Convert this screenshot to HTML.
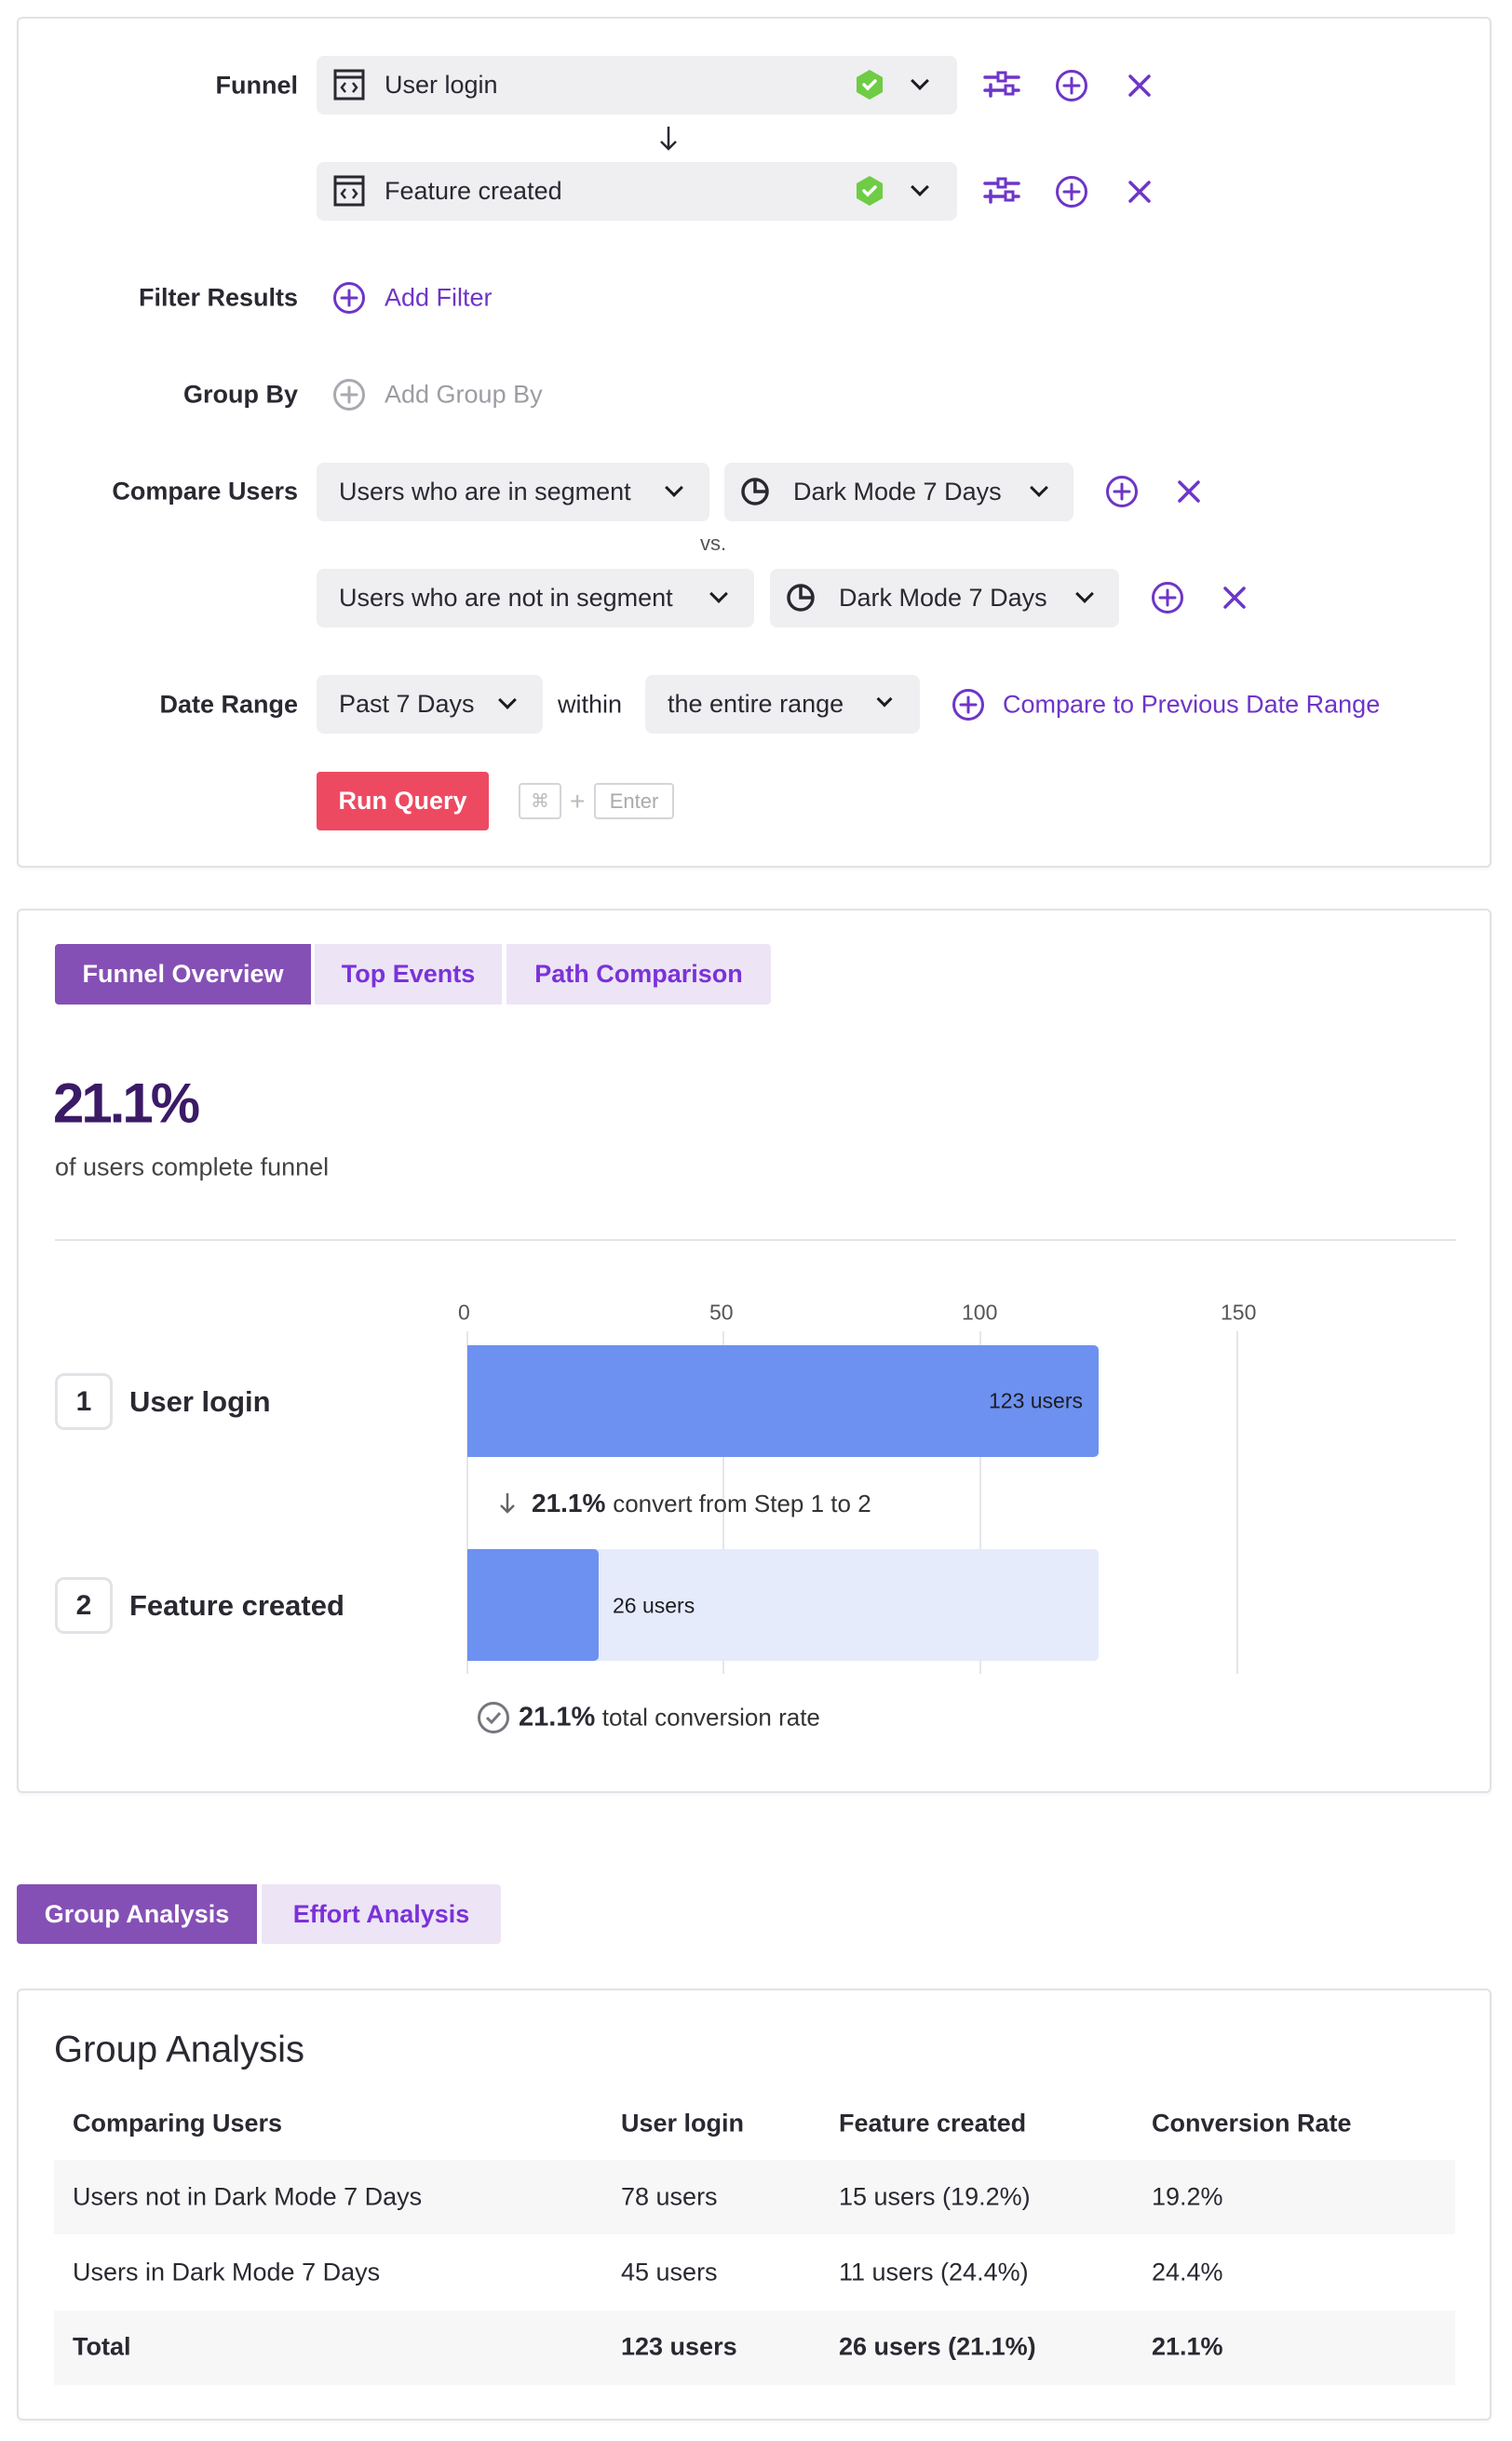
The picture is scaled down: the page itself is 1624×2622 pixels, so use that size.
<!DOCTYPE html>
<html><head><meta charset="utf-8">
<style>
*{box-sizing:border-box;margin:0;padding:0}
body{width:1624px;height:2622px;background:#fff;font-family:"Liberation Sans",sans-serif;color:#2a2830;position:relative;overflow:hidden}
.a{position:absolute}
.card{position:absolute;border:2px solid #e2e1e6;border-radius:6px;background:#fff;box-shadow:0 2px 3px rgba(0,0,0,0.04)}
.lbl{position:absolute;right:1304px;font-size:27px;font-weight:bold;color:#2a2830;transform:translateY(-50%);white-space:nowrap}
.box{position:absolute;background:#efeef1;border-radius:8px;display:flex;align-items:center;font-size:27px;color:#2a2830;white-space:nowrap}
.t{position:absolute;transform:translateY(-50%);white-space:nowrap;font-size:27px}
.chev{position:absolute;width:14px;height:14px;border-right:3px solid #1c1b20;border-bottom:3px solid #1c1b20;transform:rotate(45deg)}
.purple{color:#6e35c8}
.tab{position:absolute;display:flex;align-items:center;justify-content:center;font-size:27px;font-weight:bold;background:#ede4f6;color:#7a32d8}
.tab.on{background:#8550b5;color:#fff}
</style></head><body>

<svg width="0" height="0" style="position:absolute">
<defs>
<g id="plus"><circle cx="18" cy="18" r="15.5" fill="none" stroke="#6e35c8" stroke-width="3"/><path d="M18 10v16M10 18h16" stroke="#6e35c8" stroke-width="3" stroke-linecap="round"/></g>
<g id="x"><path d="M5 5L25 25M25 5L5 25" stroke="#6e35c8" stroke-width="3.5" stroke-linecap="round"/></g>
<g id="sl"><path d="M2 9h36M2 23h36" stroke="#6e35c8" stroke-width="3.5" stroke-linecap="round"/><path d="M8 17v12" stroke="#6e35c8" stroke-width="3.5" stroke-linecap="round"/><rect x="16" y="4" width="8" height="9" fill="#fff" stroke="#6e35c8" stroke-width="3"/><rect x="24" y="18" width="8" height="9" fill="#fff" stroke="#6e35c8" stroke-width="3"/></g>
<g id="shield"><path d="M16 1L30 9v16L16 33L2 25V9z" fill="#6fcc45"/><path d="M10 17l4 4l8-8" stroke="#fff" stroke-width="3.5" fill="none" stroke-linecap="round"/></g>
<g id="code"><rect x="2" y="2" width="30" height="30" fill="none" stroke="#2a2830" stroke-width="3"/><path d="M2 9h30" stroke="#2a2830" stroke-width="3"/><path d="M13 15l-4 5l4 5M21 15l4 5l-4 5" stroke="#2a2830" stroke-width="2.5" fill="none"/></g>
<g id="pie"><circle cx="17" cy="18" r="13" fill="none" stroke="#2a2830" stroke-width="3.5"/><path d="M17 5v13h13" fill="none" stroke="#2a2830" stroke-width="3.5"/></g>
</defs></svg>

<!-- CARD 1 -->
<div class="card" style="left:18px;top:18px;width:1584px;height:914px"></div>

<div class="lbl" style="top:92px">Funnel</div>
<div class="box" style="left:340px;top:60px;width:688px;height:63px">
 <svg class="a" style="left:18px;top:14px" width="36" height="36"><use href="#code"/></svg>
 <span style="position:absolute;left:73px">User login</span>
 <svg class="a" style="left:578px;top:14px" width="34" height="36"><use href="#shield"/></svg>
 <div class="chev" style="left:641px;top:20px"></div>
</div>
<svg class="a" style="left:1056px;top:74px" width="42" height="34"><use href="#sl"/></svg>
<svg class="a" style="left:1133px;top:74px" width="36" height="36"><use href="#plus"/></svg>
<svg class="a" style="left:1209px;top:77px" width="30" height="30"><use href="#x"/></svg>

<svg class="a" style="left:706px;top:134px" width="24" height="30"><path d="M12 2v24M4 18l8 8l8-8" stroke="#2a2830" stroke-width="2.5" fill="none"/></svg>

<div class="box" style="left:340px;top:174px;width:688px;height:63px">
 <svg class="a" style="left:18px;top:14px" width="36" height="36"><use href="#code"/></svg>
 <span style="position:absolute;left:73px">Feature created</span>
 <svg class="a" style="left:578px;top:14px" width="34" height="36"><use href="#shield"/></svg>
 <div class="chev" style="left:641px;top:20px"></div>
</div>
<svg class="a" style="left:1056px;top:188px" width="42" height="34"><use href="#sl"/></svg>
<svg class="a" style="left:1133px;top:188px" width="36" height="36"><use href="#plus"/></svg>
<svg class="a" style="left:1209px;top:191px" width="30" height="30"><use href="#x"/></svg>

<div class="lbl" style="top:320px">Filter Results</div>
<svg class="a" style="left:357px;top:302px" width="36" height="36"><use href="#plus"/></svg>
<div class="t purple" style="left:413px;top:320px">Add Filter</div>

<div class="lbl" style="top:424px">Group By</div>
<svg class="a" style="left:357px;top:406px" width="36" height="36"><circle cx="18" cy="18" r="15.5" fill="none" stroke="#aaa8b0" stroke-width="3"/><path d="M18 10v16M10 18h16" stroke="#aaa8b0" stroke-width="3" stroke-linecap="round"/></svg>
<div class="t" style="left:413px;top:424px;color:#9d9ba3">Add Group By</div>

<div class="lbl" style="top:528px">Compare Users</div>
<div class="box" style="left:340px;top:497px;width:422px;height:63px"><span style="position:absolute;left:24px">Users who are in segment</span><div class="chev" style="left:377px;top:20px"></div></div>
<div class="box" style="left:778px;top:497px;width:375px;height:63px">
 <svg class="a" style="left:16px;top:13px" width="36" height="36"><use href="#pie"/></svg>
 <span style="position:absolute;left:74px">Dark Mode 7 Days</span><div class="chev" style="left:331px;top:20px"></div></div>
<svg class="a" style="left:1187px;top:510px" width="36" height="36"><use href="#plus"/></svg>
<svg class="a" style="left:1262px;top:513px" width="30" height="30"><use href="#x"/></svg>

<div class="t" style="left:752px;top:584px;font-size:22px;color:#555">vs.</div>

<div class="box" style="left:340px;top:611px;width:470px;height:63px"><span style="position:absolute;left:24px">Users who are not in segment</span><div class="chev" style="left:425px;top:20px"></div></div>
<div class="box" style="left:827px;top:611px;width:375px;height:63px">
 <svg class="a" style="left:16px;top:13px" width="36" height="36"><use href="#pie"/></svg>
 <span style="position:absolute;left:74px">Dark Mode 7 Days</span><div class="chev" style="left:331px;top:20px"></div></div>
<svg class="a" style="left:1236px;top:624px" width="36" height="36"><use href="#plus"/></svg>
<svg class="a" style="left:1311px;top:627px" width="30" height="30"><use href="#x"/></svg>

<div class="lbl" style="top:757px">Date Range</div>
<div class="box" style="left:340px;top:725px;width:243px;height:63px"><span style="position:absolute;left:24px">Past 7 Days</span><div class="chev" style="left:198px;top:20px"></div></div>
<div class="t" style="left:599px;top:757px">within</div>
<div class="box" style="left:693px;top:725px;width:295px;height:63px"><span style="position:absolute;left:24px">the entire range</span><div class="chev" style="left:251px;top:20px;width:12px;height:12px"></div></div>
<svg class="a" style="left:1022px;top:739px" width="36" height="36"><use href="#plus"/></svg>
<div class="t purple" style="left:1077px;top:757px">Compare to Previous Date Range</div>

<div class="a" style="left:340px;top:829px;width:185px;height:63px;background:#ed4a62;border-radius:4px;color:#fff;font-weight:bold;font-size:27px;display:flex;align-items:center;justify-content:center">Run Query</div>
<div class="a" style="left:557px;top:841px;width:46px;height:39px;border:2px solid #d5d4da;border-radius:4px;color:#bbb;font-size:20px;display:flex;align-items:center;justify-content:center">⌘</div>
<div class="t" style="left:612px;top:861px;color:#bbb;font-size:28px">+</div>
<div class="a" style="left:638px;top:841px;width:86px;height:39px;border:2px solid #d5d4da;border-radius:4px;color:#aaa;font-size:22px;display:flex;align-items:center;justify-content:center">Enter</div>

<!-- CARD 2 -->
<div class="card" style="left:18px;top:976px;width:1584px;height:950px"></div>
<div class="tab on" style="left:59px;top:1014px;width:275px;height:65px;border-radius:4px 0 0 4px">Funnel Overview</div>
<div class="tab" style="left:338px;top:1014px;width:201px;height:65px">Top Events</div>
<div class="tab" style="left:544px;top:1014px;width:284px;height:65px;border-radius:0 4px 4px 0">Path Comparison</div>

<div class="t" style="left:57px;top:1185px;font-size:60px;font-weight:bold;color:#3b1a66;letter-spacing:-3px">21.1%</div>
<div class="t" style="left:59px;top:1254px;font-size:27px;color:#444">of users complete funnel</div>
<div class="a" style="left:59px;top:1331px;width:1505px;height:2px;background:#e4e3e8"></div>

<div class="t" style="left:492px;top:1410px;font-size:23px;color:#555">0</div>
<div class="t" style="left:762px;top:1410px;font-size:23px;color:#555">50</div>
<div class="t" style="left:1033px;top:1410px;font-size:23px;color:#555">100</div>
<div class="t" style="left:1311px;top:1410px;font-size:23px;color:#555">150</div>
<div class="a" style="left:501px;top:1430px;width:2px;height:368px;background:#e6e5ea"></div>
<div class="a" style="left:776px;top:1430px;width:2px;height:368px;background:#e6e5ea"></div>
<div class="a" style="left:1052px;top:1430px;width:2px;height:368px;background:#e6e5ea"></div>
<div class="a" style="left:1328px;top:1430px;width:2px;height:368px;background:#e6e5ea"></div>

<div class="a" style="left:502px;top:1445px;width:678px;height:120px;background:#6d91f0;border-radius:0 5px 5px 0"></div>
<div class="t" style="left:1062px;top:1505px;font-size:23px;color:#1d1c22">123 users</div>

<svg class="a" style="left:535px;top:1602px" width="20" height="26"><path d="M10 2v20M3 15l7 7l7-7" stroke="#666" stroke-width="2.5" fill="none"/></svg>
<div class="t" style="left:571px;top:1615px;font-size:28px"><b>21.1%</b> <span style="font-size:26px;color:#333">convert from Step 1 to 2</span></div>

<div class="a" style="left:502px;top:1664px;width:678px;height:120px;background:#e6ebfb;border-radius:0 5px 5px 0"></div>
<div class="a" style="left:502px;top:1664px;width:141px;height:120px;background:#6d91f0;border-radius:0 5px 5px 0"></div>
<div class="t" style="left:658px;top:1725px;font-size:23px;color:#1d1c22">26 users</div>

<div class="a" style="left:59px;top:1475px;width:62px;height:61px;border:3px solid #e3e2e7;border-radius:10px;display:flex;align-items:center;justify-content:center;font-size:30px;font-weight:bold">1</div>
<div class="t" style="left:139px;top:1506px;font-size:31px;font-weight:bold">User login</div>
<div class="a" style="left:59px;top:1694px;width:62px;height:61px;border:3px solid #e3e2e7;border-radius:10px;display:flex;align-items:center;justify-content:center;font-size:30px;font-weight:bold">2</div>
<div class="t" style="left:139px;top:1725px;font-size:31px;font-weight:bold">Feature created</div>

<svg class="a" style="left:512px;top:1827px" width="36" height="36"><circle cx="18" cy="18" r="15.5" fill="none" stroke="#77757e" stroke-width="3"/><path d="M11 18l5 5l9-10" stroke="#77757e" stroke-width="3" fill="none"/></svg>
<div class="t" style="left:557px;top:1845px;font-size:27px"><b style="font-size:29px">21.1%</b> <span style="font-size:26px;color:#333">total conversion rate</span></div>

<!-- Tabs 2 -->
<div class="tab on" style="left:18px;top:2024px;width:258px;height:64px;border-radius:4px 0 0 4px">Group Analysis</div>
<div class="tab" style="left:281px;top:2024px;width:257px;height:64px;border-radius:0 4px 4px 0">Effort Analysis</div>

<!-- CARD 3 -->
<div class="card" style="left:18px;top:2136px;width:1584px;height:464px"></div>
<div class="t" style="left:58px;top:2202px;font-size:40px">Group Analysis</div>
<div class="a" style="left:58px;top:2320px;width:1505px;height:80px;background:#f7f7f8"></div>
<div class="a" style="left:58px;top:2482px;width:1505px;height:80px;background:#f7f7f8"></div>

<div class="t" style="left:78px;top:2281px;font-weight:bold">Comparing Users</div>
<div class="t" style="left:667px;top:2281px;font-weight:bold">User login</div>
<div class="t" style="left:901px;top:2281px;font-weight:bold">Feature created</div>
<div class="t" style="left:1237px;top:2281px;font-weight:bold">Conversion Rate</div>

<div class="t" style="left:78px;top:2360px">Users not in Dark Mode 7 Days</div>
<div class="t" style="left:667px;top:2360px">78 users</div>
<div class="t" style="left:901px;top:2360px">15 users (19.2%)</div>
<div class="t" style="left:1237px;top:2360px">19.2%</div>

<div class="t" style="left:78px;top:2441px">Users in Dark Mode 7 Days</div>
<div class="t" style="left:667px;top:2441px">45 users</div>
<div class="t" style="left:901px;top:2441px">11 users (24.4%)</div>
<div class="t" style="left:1237px;top:2441px">24.4%</div>

<div class="t" style="left:78px;top:2521px;font-weight:bold">Total</div>
<div class="t" style="left:667px;top:2521px;font-weight:bold">123 users</div>
<div class="t" style="left:901px;top:2521px;font-weight:bold">26 users (21.1%)</div>
<div class="t" style="left:1237px;top:2521px;font-weight:bold">21.1%</div>

</body></html>
